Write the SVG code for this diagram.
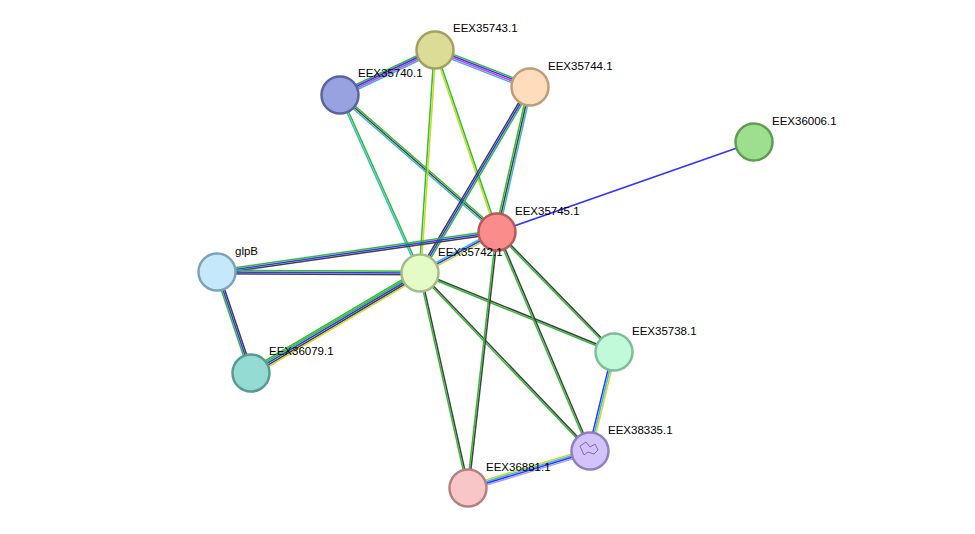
<svg xmlns="http://www.w3.org/2000/svg" width="975" height="534" viewBox="0 0 975 534">
<style>
line{stroke-width:1.5;fill:none}
.g{stroke:#2fbf2f}.b{stroke:#3333ff}.k{stroke:#404040}.c{stroke:#3ab8d8}.m{stroke:#d93bd9}.y{stroke:#c8d92a}.l{stroke:#a0a0ff}
circle{stroke-width:2.5}
text{font-family:"Liberation Sans",Arial,sans-serif;font-size:11.5px;fill:#000}
</style>
<rect width="975" height="534" fill="#fff"/>
<g id="edges">
<line class="g" x1="338.9" y1="92.7" x2="433.9" y2="47.7"/><line class="b" x1="339.6" y1="94.2" x2="434.6" y2="49.2"/><line class="m" x1="340.4" y1="95.8" x2="435.4" y2="50.8"/><line class="c" x1="341.1" y1="97.3" x2="436.1" y2="52.3"/>
<line class="g" x1="435.9" y1="47.6" x2="530.9" y2="84.6"/><line class="b" x1="435.3" y1="49.2" x2="530.3" y2="86.2"/><line class="m" x1="434.7" y1="50.8" x2="529.7" y2="87.8"/><line class="c" x1="434.1" y1="52.4" x2="529.1" y2="89.4"/>
<line class="c" x1="339.2" y1="95.3" x2="419.2" y2="273.3"/><line class="g" x1="340.8" y1="94.6" x2="420.8" y2="272.6"/>
<line class="g" x1="341.1" y1="93.7" x2="498.1" y2="230.7"/><line class="k" x1="340" y1="95" x2="497" y2="232"/><line class="c" x1="338.9" y1="96.3" x2="495.9" y2="233.3"/>
<line class="g" x1="434.2" y1="50" x2="419.2" y2="273"/><line class="y" x1="435.9" y1="50.1" x2="420.9" y2="273.1"/>
<line class="y" x1="434.2" y1="50.3" x2="496.2" y2="232.3"/><line class="g" x1="435.8" y1="49.7" x2="497.8" y2="231.7"/>
<line class="g" x1="531.5" y1="87.9" x2="421.5" y2="273.9"/><line class="b" x1="530" y1="87" x2="420" y2="273"/><line class="k" x1="528.5" y1="86.1" x2="418.5" y2="272.1"/>
<line class="c" x1="531.7" y1="87.4" x2="498.7" y2="232.4"/><line class="k" x1="530" y1="87" x2="497" y2="232"/><line class="g" x1="528.3" y1="86.6" x2="495.3" y2="231.6"/>
<line class="b" x1="497" y1="232" x2="754" y2="142"/>
<line class="g" x1="216.8" y1="270.3" x2="496.8" y2="230.3"/><line class="b" x1="217" y1="272" x2="497" y2="232"/><line class="k" x1="217.2" y1="273.7" x2="497.2" y2="233.7"/>
<line class="g" x1="217" y1="270.3" x2="420" y2="271.3"/><line class="b" x1="217" y1="272" x2="420" y2="273"/><line class="k" x1="217" y1="273.7" x2="420" y2="274.7"/>
<line class="g" x1="215.4" y1="272.5" x2="249.4" y2="373.5"/><line class="b" x1="217" y1="272" x2="251" y2="373"/><line class="k" x1="218.6" y1="271.5" x2="252.6" y2="372.5"/>
<line class="g" x1="418.3" y1="270.1" x2="249.3" y2="370.1"/><line class="g" x1="419.1" y1="271.5" x2="250.1" y2="371.5"/><line class="b" x1="420" y1="273" x2="251" y2="373"/><line class="k" x1="420.9" y1="274.5" x2="251.9" y2="374.5"/><line class="y" x1="421.7" y1="275.9" x2="252.7" y2="375.9"/>
<line class="c" x1="419.2" y1="271.5" x2="496.2" y2="230.5"/><line class="b" x1="420" y1="273" x2="497" y2="232"/><line class="y" x1="420.8" y1="274.5" x2="497.8" y2="233.5"/>
<line class="g" x1="419.7" y1="273.8" x2="613.7" y2="352.8"/><line class="k" x1="420.3" y1="272.2" x2="614.3" y2="351.2"/>
<line class="g" x1="496.4" y1="232.6" x2="613.4" y2="352.6"/><line class="k" x1="497.6" y1="231.4" x2="614.6" y2="351.4"/>
<line class="g" x1="419.4" y1="273.6" x2="589.4" y2="451.6"/><line class="k" x1="420.6" y1="272.4" x2="590.6" y2="450.4"/>
<line class="g" x1="496.2" y1="232.3" x2="589.2" y2="451.3"/><line class="k" x1="497.8" y1="231.7" x2="590.8" y2="450.7"/>
<line class="g" x1="419.2" y1="273.2" x2="467.2" y2="488.2"/><line class="k" x1="420.8" y1="272.8" x2="468.8" y2="487.8"/>
<line class="g" x1="496.2" y1="231.9" x2="467.2" y2="487.9"/><line class="k" x1="497.8" y1="232.1" x2="468.8" y2="488.1"/>
<line class="b" x1="612.4" y1="351.6" x2="588.4" y2="450.6"/><line class="c" x1="614" y1="352" x2="590" y2="451"/><line class="y" x1="615.7" y1="352.4" x2="591.7" y2="451.4"/>
<line class="y" x1="467.3" y1="485.6" x2="589.3" y2="448.6"/><line class="c" x1="467.8" y1="487.2" x2="589.8" y2="450.2"/><line class="b" x1="468.2" y1="488.8" x2="590.2" y2="451.8"/><line class="l" x1="468.7" y1="490.4" x2="590.7" y2="453.4"/>
</g>
<g id="EEX35743.1"><circle cx="435" cy="50" r="18.5" fill="#dcdc96" stroke="#a0a060"/><text x="453" y="32">EEX35743.1</text></g>
<g id="EEX35740.1"><circle cx="340" cy="95" r="18.5" fill="#98a2e0" stroke="#5a64a0"/><text x="358" y="77">EEX35740.1</text></g>
<g id="EEX35744.1"><circle cx="530" cy="87" r="18.5" fill="#fedcbc" stroke="#c09c7a"/><text x="548" y="70">EEX35744.1</text></g>
<g id="EEX36006.1"><circle cx="754" cy="142" r="18.5" fill="#9ddf8e" stroke="#5e9e50"/><text x="772" y="125">EEX36006.1</text></g>
<g id="EEX35745.1"><circle cx="497" cy="232" r="18.5" fill="#fb8c8c" stroke="#b45a5a"/><text x="515" y="215">EEX35745.1</text></g>
<g id="EEX35742.1"><circle cx="420" cy="273" r="18.5" fill="#e5fbc6" stroke="#a4bc88"/><text x="438" y="256">EEX35742.1</text></g>
<g id="glpB"><circle cx="217" cy="272" r="18.5" fill="#c6e8fb" stroke="#7aa4be"/><text x="235" y="255">glpB</text></g>
<g id="EEX36079.1"><circle cx="251" cy="373" r="18.5" fill="#94dcd3" stroke="#5a9a94"/><text x="269" y="355">EEX36079.1</text></g>
<g id="EEX35738.1"><circle cx="614" cy="352" r="18.5" fill="#c0fad8" stroke="#80bc98"/><text x="632" y="335">EEX35738.1</text></g>
<g id="EEX38335.1"><circle cx="590" cy="451" r="18.5" fill="#d2c4f8" stroke="#9080c0"/><path d="M580 446l6-4 4 5 5-3 3 6-4 4-6-2-4 3z" fill="none" stroke="#9060c0" stroke-width="1"/><text x="608" y="434">EEX38335.1</text></g>
<g id="EEX36881.1"><circle cx="468" cy="488" r="18.5" fill="#f8c6c6" stroke="#b48080"/><text x="486" y="471">EEX36881.1</text></g>
</svg>
